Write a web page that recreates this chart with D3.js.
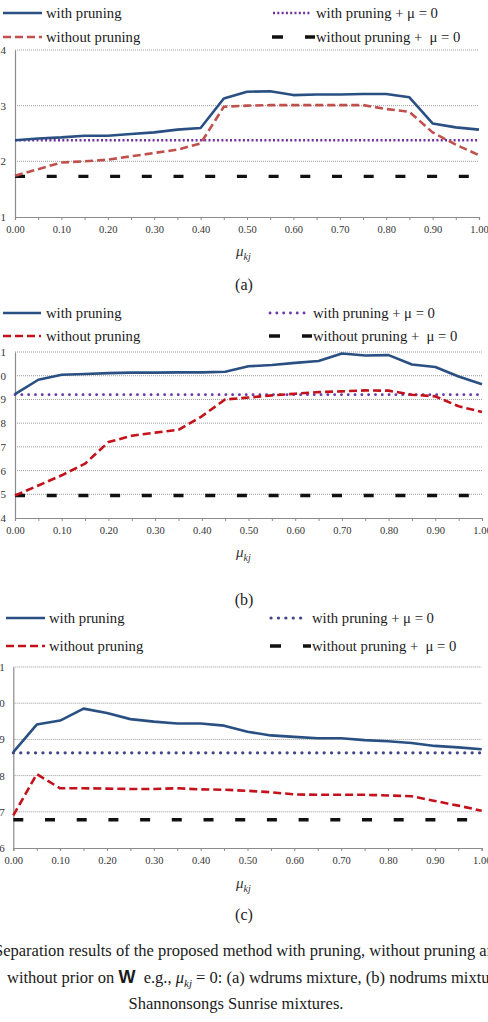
<!DOCTYPE html>
<html>
<head>
<meta charset="utf-8">
<script src="https://cdn.jsdelivr.net/npm/d3@7"></script>
<style>
  body { margin: 0; background: #fff; }
  svg { display: block; }
  text { font-family: "Liberation Serif", "DejaVu Serif", serif; white-space: pre; }
</style>
</head>
<body>
<svg id="fig" width="488" height="1022"></svg>
<script>
// x values (mu_kj) and tick labels shared by all three panels
const muKj = [0.00, 0.05, 0.10, 0.15, 0.20, 0.25, 0.30, 0.35, 0.40, 0.45, 0.50,
              0.55, 0.60, 0.65, 0.70, 0.75, 0.80, 0.85, 0.90, 0.95, 1.00]
const xTickLabels = ["0.00", "0.10", "0.20", "0.30", "0.40", "0.50", "0.60", "0.70", "0.80", "0.90", "1.00"]
const seriesNames = ["with pruning", "without pruning", "with pruning + \u03bc = 0", "without pruning +  \u03bc = 0"]

// (a) wdrums mixture
const aTicks = [1, 2, 3, 4]
const aWith = [2.38, 2.41, 2.43, 2.46, 2.46, 2.49, 2.52, 2.57, 2.60, 3.13, 3.25,
               3.26, 3.19, 3.20, 3.20, 3.21, 3.21, 3.15, 2.68, 2.61, 2.57]
const aWithout = [1.74, 1.86, 1.98, 2.00, 2.03, 2.09, 2.15, 2.21, 2.32, 2.98, 3.00,
                  3.01, 3.01, 3.01, 3.01, 3.01, 2.94, 2.89, 2.52, 2.30, 2.11]
const aWithMu0 = 2.38
const aWithoutMu0 = 1.73

// (b) nodrums mixture
const bTicks = [4, 5, 6, 7, 8, 9, 10, 11]
const bWith = [9.22, 9.83, 10.04, 10.07, 10.11, 10.13, 10.13, 10.14, 10.14, 10.17, 10.40,
               10.45, 10.54, 10.62, 10.94, 10.85, 10.87, 10.47, 10.37, 9.97, 9.64]
const bWithout = [4.95, 5.37, 5.80, 6.29, 7.20, 7.47, 7.60, 7.72, 8.29, 9.00, 9.08,
                  9.17, 9.24, 9.31, 9.34, 9.38, 9.37, 9.20, 9.13, 8.71, 8.47]
const bWithMu0 = 9.20
const bWithoutMu0 = 4.95

// (c) Shannonsongs Sunrise mixture
const cTicks = [6, 7, 8, 9, 10, 11]
const cWith = [8.65, 9.41, 9.52, 9.85, 9.73, 9.56, 9.49, 9.44, 9.44, 9.38, 9.21,
               9.11, 9.07, 9.03, 9.03, 8.98, 8.95, 8.90, 8.82, 8.78, 8.73]
const cWithout = [6.90, 8.04, 7.65, 7.65, 7.64, 7.63, 7.63, 7.65, 7.62, 7.61, 7.58,
                  7.54, 7.48, 7.47, 7.47, 7.47, 7.45, 7.43, 7.30, 7.17, 7.03]
const cWithMu0 = 8.63
const cWithoutMu0 = 6.78

const panels = [
  { ticks: aTicks, w: aWith, wo: aWithout, w0: aWithMu0, wo0: aWithoutMu0, label: "(a)",
    left: 15, right: 479, top: 50, bottom: 217, pad: 9,
    legY: [13, 37], legL: [3, 42, 46], legR: [272, 310, 316],
    woColor: "#c0504d", dotColor: "#7030a0", dotDash: "2,2.3", dotCap: "butt", dotW: 2.4,
    titleY: 256, labelY: 290 },
  { ticks: bTicks, w: bWith, wo: bWithout, w0: bWithMu0, wo0: bWithoutMu0, label: "(b)",
    left: 15, right: 482, top: 352, bottom: 518, pad: 9,
    legY: [313, 336], legL: [3, 41, 46], legR: [269, 306, 313],
    woColor: "#c3121b", dotColor: "#6a3aa8", dotDash: "0.1,6.7", dotCap: "round", dotW: 2.8,
    titleY: 557, labelY: 605 },
  { ticks: cTicks, w: cWith, wo: cWithout, w0: cWithMu0, wo0: cWithoutMu0, label: "(c)",
    left: 13.3, right: 481.7, top: 667, bottom: 848, pad: 8.5,
    legY: [618, 646], legL: [6, 45, 49], legR: [270, 303, 312],
    woColor: "#c3121b", dotColor: "#45458a", dotDash: "0.1,7.3", dotCap: "round", dotW: 3.2,
    titleY: 888, labelY: 920 }
]

const svg = d3.select("#fig")
const blue = "#2a4f82"

panels.forEach(p => {
  const g = svg.append("g")
  const x = d3.scaleLinear().domain([0, 1]).range([p.left, p.right])
  const y = d3.scaleLinear().domain(d3.extent(p.ticks)).range([p.bottom, p.top])

  // dotted gridlines
  g.append("g").selectAll("line")
    .data(p.ticks.slice(1))
    .join("line")
      .attr("x1", p.left).attr("x2", p.right)
      .attr("y1", d => y(d)).attr("y2", d => y(d))
      .attr("stroke", "#9a9a9a").attr("stroke-width", 1)
      .attr("stroke-dasharray", "1,1")

  // y axis
  const ya = g.append("g")
    .attr("transform", `translate(${p.left},0)`)
    .call(d3.axisLeft(y).tickValues(p.ticks).tickSize(0).tickPadding(p.pad).tickFormat(d3.format("d")))
  ya.select(".domain").attr("stroke", "#8c8c8c").attr("stroke-width", 1.2)
  ya.selectAll("text").attr("font-family", "Liberation Serif").attr("font-size", 11).attr("fill", "#333")

  // x axis, ticks every 0.05 and labels every 0.10
  const xa = g.append("g")
    .attr("transform", `translate(0,${p.bottom})`)
    .call(d3.axisBottom(x).tickValues(muKj).tickSize(3).tickPadding(6)
      .tickFormat((d, i) => i % 2 === 0 ? xTickLabels[i / 2] : ""))
  xa.select(".domain").attr("stroke", "#8c8c8c").attr("stroke-width", 1.2)
  xa.selectAll(".tick line").attr("stroke", "#8c8c8c")
  xa.selectAll("text").attr("font-family", "Liberation Serif").attr("font-size", 10.5).attr("fill", "#333")

  // constant reference lines
  g.append("line")
    .attr("x1", x(0)).attr("x2", x(1))
    .attr("y1", y(p.wo0)).attr("y2", y(p.wo0))
    .attr("stroke", "#111").attr("stroke-width", 3.4)
    .attr("stroke-dasharray", "10,21.7")
  g.append("line")
    .attr("x1", x(0)).attr("x2", x(1))
    .attr("y1", y(p.w0)).attr("y2", y(p.w0))
    .attr("stroke", p.dotColor).attr("stroke-width", p.dotW)
    .attr("stroke-dasharray", p.dotDash).attr("stroke-linecap", p.dotCap)

  const line = d3.line().x((d, i) => x(muKj[i])).y(d => y(d))
  g.append("path").datum(p.wo)
    .attr("d", line).attr("fill", "none")
    .attr("stroke", p.woColor).attr("stroke-width", 2.6)
    .attr("stroke-dasharray", "8,4").attr("stroke-linejoin", "round")
  g.append("path").datum(p.w)
    .attr("d", line).attr("fill", "none")
    .attr("stroke", blue).attr("stroke-width", 2.6).attr("stroke-linejoin", "round")

  // legend
  const leg = g.append("g").attr("font-size", 14.7).attr("fill", "#1a1a1a")
  leg.append("line").attr("x1", p.legL[0]).attr("x2", p.legL[1]).attr("y1", p.legY[0]).attr("y2", p.legY[0])
    .attr("stroke", blue).attr("stroke-width", 2.6)
  leg.append("line").attr("x1", p.legL[0]).attr("x2", p.legL[1]).attr("y1", p.legY[1]).attr("y2", p.legY[1])
    .attr("stroke", p.woColor).attr("stroke-width", 2.6).attr("stroke-dasharray", "8,4")
  leg.append("line").attr("x1", p.legR[0] + 1).attr("x2", p.legR[1]).attr("y1", p.legY[0]).attr("y2", p.legY[0])
    .attr("stroke", p.dotColor).attr("stroke-width", p.dotW)
    .attr("stroke-dasharray", p.dotDash).attr("stroke-linecap", p.dotCap)
  leg.append("line").attr("x1", p.legR[0]).attr("x2", p.legR[2] - 1).attr("y1", p.legY[1]).attr("y2", p.legY[1])
    .attr("stroke", "#111").attr("stroke-width", 3.4).attr("stroke-dasharray", "11,22")
  leg.selectAll("text")
    .data(seriesNames)
    .join("text")
      .attr("x", (d, i) => i < 2 ? p.legL[2] : p.legR[2])
      .attr("y", (d, i) => p.legY[i % 2] + 5)
      .text(d => d)

  // axis title mu_kj
  const t = g.append("text").attr("x", 236).attr("y", p.titleY).attr("font-size", 15).attr("fill", "#333")
    .attr("font-style", "italic")
  t.append("tspan").text("\u03bc")
  t.append("tspan").attr("font-size", 10).attr("dy", 4).text("kj")

  g.append("text").attr("x", 244).attr("y", p.labelY).attr("text-anchor", "middle")
    .attr("font-size", 16).attr("fill", "#222").text(p.label)
})

// caption
const cap = svg.append("g").attr("font-size", 16.5).attr("fill", "#1a1a1a")
cap.append("text").attr("x", -6).attr("y", 956)
  .text("Separation results of the proposed method with pruning, without pruning and")
const c2 = cap.append("text").attr("x", 7).attr("y", 983)
c2.append("tspan").text("without prior on ")
c2.append("tspan").attr("font-family", "Liberation Sans").attr("font-weight", "bold").attr("font-size", 18).text("W")
c2.append("tspan").text("  e.g., ")
c2.append("tspan").attr("font-style", "italic").text("\u03bc")
c2.append("tspan").attr("font-style", "italic").attr("font-size", 11).attr("dy", 4).text("kj")
c2.append("tspan").attr("dy", -4).text(" = 0: (a) wdrums mixture, (b) nodrums mixture")
cap.append("text").attr("x", 236).attr("y", 1009).attr("text-anchor", "middle")
  .text("Shannonsongs Sunrise mixtures.")
</script>
</body>
</html>
